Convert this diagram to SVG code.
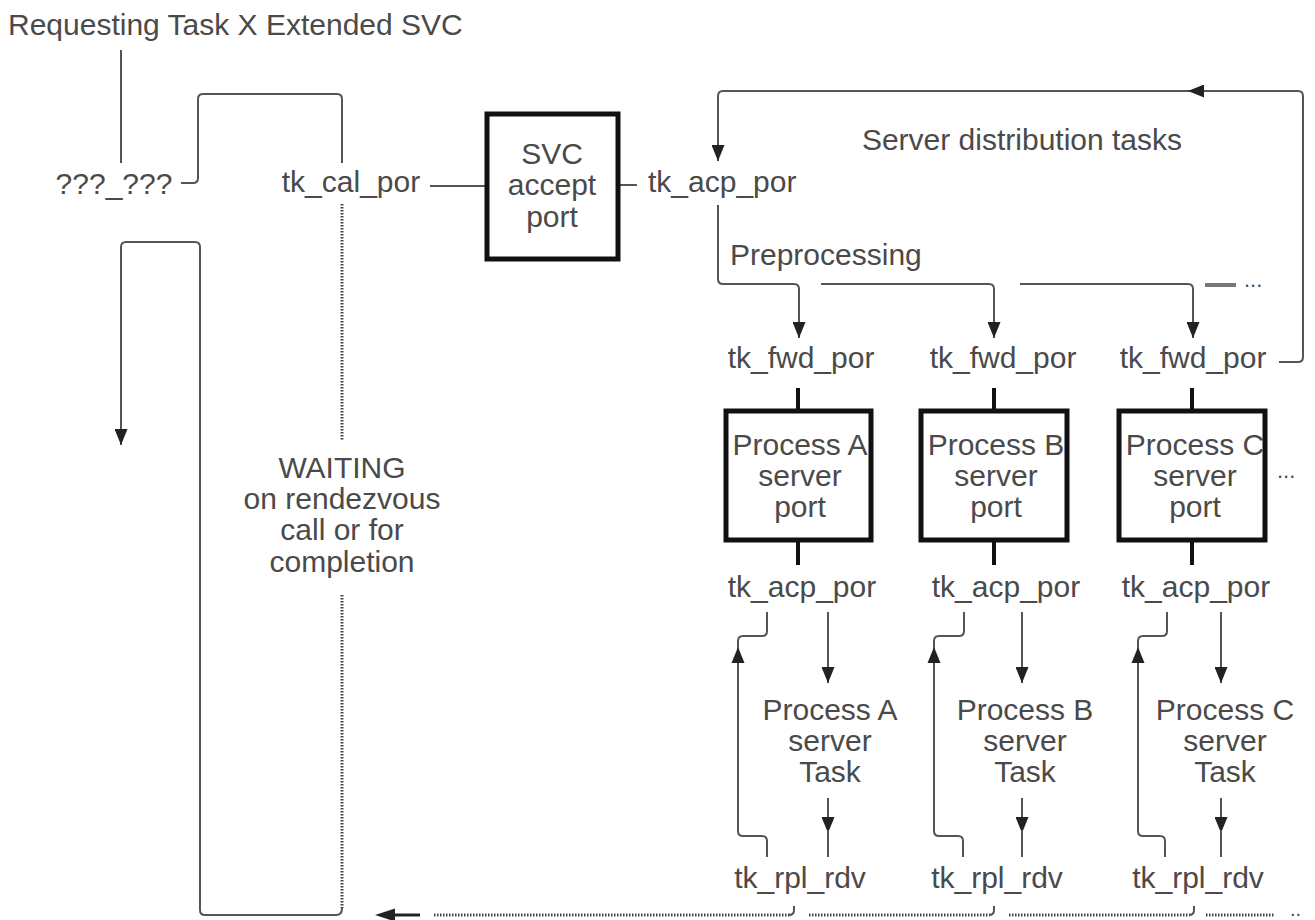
<svg xmlns="http://www.w3.org/2000/svg" width="1315" height="920" viewBox="0 0 1315 920">
<style>
text{font-family:"Liberation Sans",Arial,sans-serif;font-size:30px;fill:#4a4a4a}
.m{text-anchor:middle}
.ln{fill:none;stroke:#555;stroke-width:2}
.dot{fill:none;stroke:#444;stroke-width:3;stroke-dasharray:1.5 1.5}
.stub{fill:none;stroke:#111;stroke-width:4}
.box{fill:#fff;stroke:#111;stroke-width:5}
.ah{fill:#222}
</style>
<defs>
<marker id="arr" markerUnits="userSpaceOnUse" markerWidth="16" markerHeight="13" refX="16" refY="6.5" orient="auto"><path d="M0,0 L16,6.5 L0,13 z" fill="#222"/></marker>
</defs>
<rect width="1315" height="920" fill="#fff"/>

<g id="connectors">
<path class="ln" d="M121,50 V163"/>
<path class="ln" d="M181,183 H193 Q198,183 198,178 V99 Q198,94 203,94 H337 Q342,94 342,99 V163"/>
<path class="ln" d="M430,186 H487"/>
<path class="ln" d="M620,185 H637"/>
<path class="dot" d="M342,204 V440"/>
<path class="dot" d="M342,595 V908"/>
<path class="ln" d="M342,908 Q342,915 336,915 H205 Q200,915 200,910 V247 Q200,242 195,242 H126 Q121,242 121,247 V445" marker-end="url(#arr)"/>
<path class="ln" d="M1279,362 H1298 Q1303,362 1303,357 V96 Q1303,91 1298,91 H723 Q718,91 718,96 V161" marker-end="url(#arr)"/>
<path class="ln" d="M1222,91 H1188" marker-end="url(#arr)"/>
<path class="ln" d="M718,205 V279 Q718,284 723,284 H794 Q799,284 799,289 V338" marker-end="url(#arr)"/>
<path class="ln" d="M821,284 H989 Q994,284 994,289 V338" marker-end="url(#arr)"/>
<path class="ln" d="M1020,284 H1188 Q1193,284 1193,289 V338" marker-end="url(#arr)"/>
<path d="M1205,285 H1236" stroke="#777" stroke-width="4"/>

<path class="stub" d="M798,388 V411 M798,540 V565"/>
<path class="stub" d="M994,388 V411 M994,540 V565"/>
<path class="stub" d="M1192,388 V411 M1192,540 V565"/>

<path class="ln" d="M767,612 V631 Q767,636 762,636 H743 Q738,636 738,641 V831 Q738,836 743,836 H762 Q767,836 767,841 V857"/>
<path class="ah" d="M738,647 L731.5,663 L744.5,663 z"/>
<path class="ln" d="M828,612 V683" marker-end="url(#arr)"/>
<path class="ln" d="M828,798 V833" marker-end="url(#arr)"/>
<path class="ln" d="M828,830 V857"/>

<path class="ln" d="M964,612 V631 Q964,636 959,636 H939 Q934,636 934,641 V831 Q934,836 939,836 H958 Q963,836 963,841 V857"/>
<path class="ah" d="M934,647 L927.5,663 L940.5,663 z"/>
<path class="ln" d="M1022,612 V683" marker-end="url(#arr)"/>
<path class="ln" d="M1022,798 V833" marker-end="url(#arr)"/>
<path class="ln" d="M1022,830 V857"/>

<path class="ln" d="M1167,612 V631 Q1167,636 1162,636 H1143 Q1138,636 1138,641 V831 Q1138,836 1143,836 H1160 Q1165,836 1165,841 V857"/>
<path class="ah" d="M1138,647 L1131.5,663 L1144.5,663 z"/>
<path class="ln" d="M1221,612 V683" marker-end="url(#arr)"/>
<path class="ln" d="M1221,798 V833" marker-end="url(#arr)"/>
<path class="ln" d="M1221,830 V857"/>

<path d="M420,915 H392" stroke="#222" stroke-width="3" fill="none"/>
<path class="ah" d="M375,915 L395,908.5 L395,921.5 z"/>
<path class="dot" d="M434,915 H790" stroke-width="2"/>
<path class="ln" d="M789,915 Q794,915 794,910 V906" stroke-width="1.5"/>
<path class="dot" d="M809,915 H990" stroke-width="2"/>
<path class="ln" d="M989,915 Q994,915 994,910 V906" stroke-width="1.5"/>
<path class="dot" d="M1009,915 H1190" stroke-width="2"/>
<path class="ln" d="M1189,915 Q1194,915 1194,910 V906" stroke-width="1.5"/>
<path class="dot" d="M1206,915 H1274" stroke-width="2"/>
</g>

<g id="title"><text x="8" y="35">Requesting Task X Extended SVC</text></g>
<g id="unknown"><text class="m" x="114" y="194">???_???</text></g>
<g id="tk_cal_por"><text class="m" x="351" y="192">tk_cal_por</text></g>
<g id="waiting">
<text class="m" x="342" y="478">WAITING</text>
<text class="m" x="342" y="509">on rendezvous</text>
<text class="m" x="342" y="540">call or for</text>
<text class="m" x="342" y="572">completion</text>
</g>
<g id="svc_port">
<rect class="box" x="487" y="114" width="131" height="145"/>
<text class="m" x="552" y="164">SVC</text>
<text class="m" x="552" y="195">accept</text>
<text class="m" x="552" y="227">port</text>
</g>
<g id="tk_acp_por_top"><text x="648" y="192">tk_acp_por</text></g>
<g id="server_dist"><text class="m" x="1022" y="150">Server distribution tasks</text></g>
<g id="preprocessing"><text x="730" y="265">Preprocessing</text><text x="1244" y="287" style="font-size:22px">...</text></g>

<g id="fwd">
<text class="m" x="801" y="368">tk_fwd_por</text>
<text class="m" x="1003" y="368">tk_fwd_por</text>
<text class="m" x="1193" y="368">tk_fwd_por</text>
</g>

<g id="port_a">
<rect class="box" x="726" y="411" width="145" height="129"/>
<text class="m" x="800" y="455">Process A</text>
<text class="m" x="800" y="486">server</text>
<text class="m" x="800" y="517">port</text>
</g>
<g id="port_b">
<rect class="box" x="921" y="411" width="146" height="129"/>
<text class="m" x="996" y="455">Process B</text>
<text class="m" x="996" y="486">server</text>
<text class="m" x="996" y="517">port</text>
</g>
<g id="port_c">
<rect class="box" x="1119" y="411" width="146" height="129"/>
<text class="m" x="1195" y="455">Process C</text>
<text class="m" x="1195" y="486">server</text>
<text class="m" x="1195" y="517">port</text>
<text x="1277" y="478" style="font-size:22px">...</text>
</g>

<g id="acp">
<text class="m" x="802" y="597">tk_acp_por</text>
<text class="m" x="1006" y="597">tk_acp_por</text>
<text class="m" x="1196" y="597">tk_acp_por</text>
</g>

<g id="task_a">
<text class="m" x="830" y="720">Process A</text>
<text class="m" x="830" y="751">server</text>
<text class="m" x="830" y="782">Task</text>
</g>
<g id="task_b">
<text class="m" x="1025" y="720">Process B</text>
<text class="m" x="1025" y="751">server</text>
<text class="m" x="1025" y="782">Task</text>
</g>
<g id="task_c">
<text class="m" x="1225" y="720">Process C</text>
<text class="m" x="1225" y="751">server</text>
<text class="m" x="1225" y="782">Task</text>
</g>

<g id="rpl">
<text class="m" x="800" y="888">tk_rpl_rdv</text>
<text class="m" x="997" y="888">tk_rpl_rdv</text>
<text class="m" x="1198" y="888">tk_rpl_rdv</text>
<text x="1290" y="916" style="font-size:20px">..</text>
</g>
</svg>
